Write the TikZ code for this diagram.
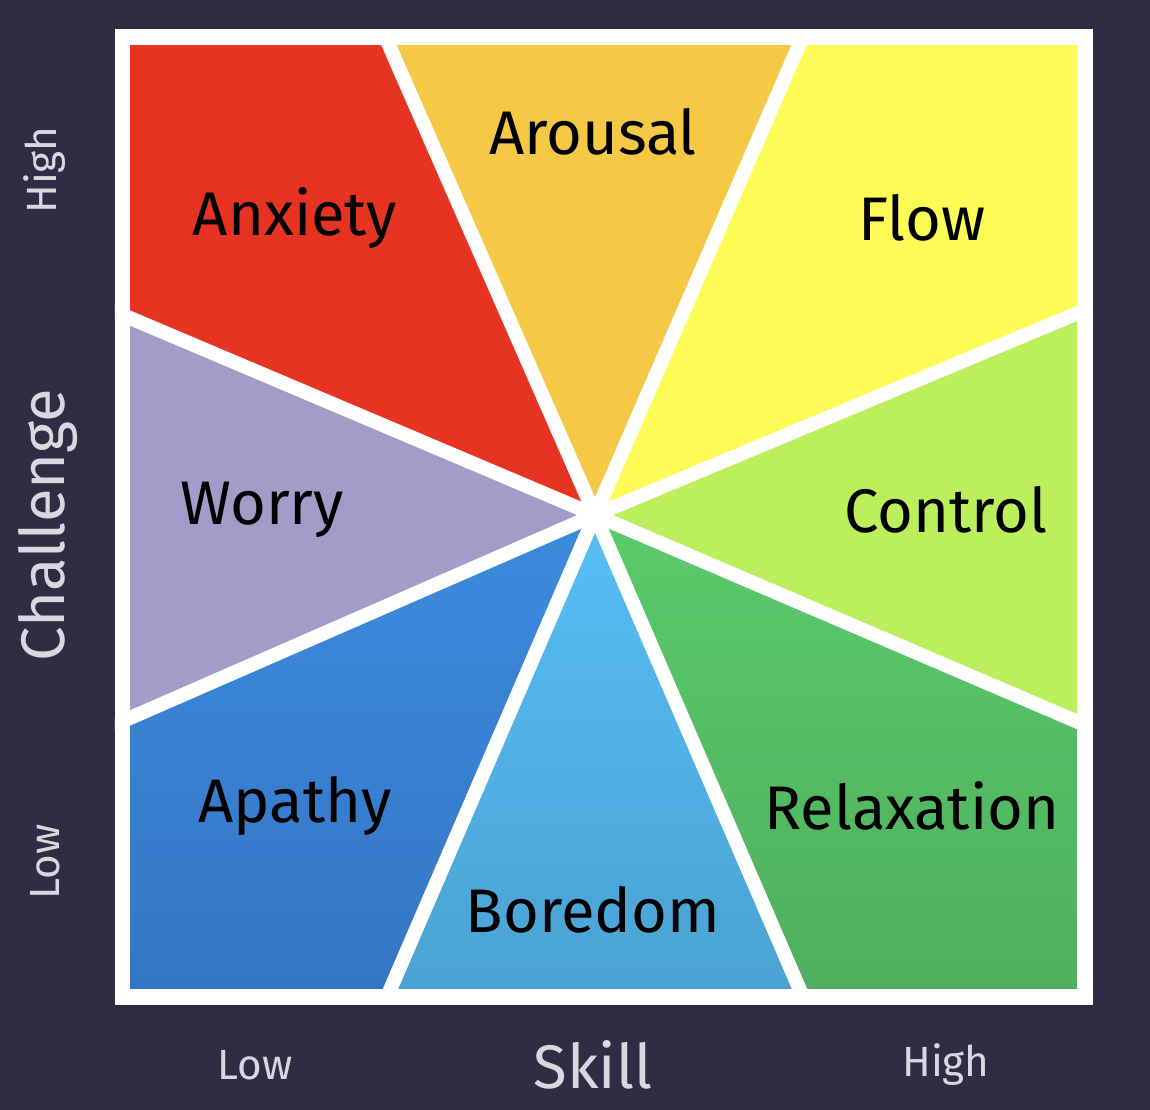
\documentclass[tikz,border=0pt]{standalone}
\usepackage{fontspec}
\usetikzlibrary{calc}
\setmainfont{Fira Sans}
\definecolor{bg}{HTML}{2F2D44}
\definecolor{cAnx}{HTML}{E63322}
\definecolor{cAro}{HTML}{F5C845}
\definecolor{cFlow}{HTML}{FDFB55}
\definecolor{cCtl}{HTML}{BCEF5C}
\definecolor{cRel}{HTML}{5ACB6A}
\definecolor{cRel2}{HTML}{4FAF5E}
\definecolor{cBor}{HTML}{57BEF5}
\definecolor{cBor2}{HTML}{4AA3D3}
\definecolor{cApa}{HTML}{3C8BDE}
\definecolor{cApa2}{HTML}{3576C4}
\definecolor{cWor}{HTML}{A29DC8}
\definecolor{axis}{HTML}{D8D8DE}
\tikzset{lab/.style={font=\fontsize{17.5}{20}\selectfont, text=black},
 ax/.style={font=\fontsize{12}{14}\selectfont, text=axis},
 axbig/.style={font=\fontsize{17.5}{20}\selectfont, text=axis},
 gap/.style={white, line width=4pt}}
\begin{document}
\begin{tikzpicture}[x=0.01cm,y=-0.01cm]
\fill[bg] (0,0) rectangle (1150,1110);
\useasboundingbox (0,0) rectangle (1150,1110);
\fill[white] (115,30) rectangle (1092,1004);
\coordinate (c) at (595,515);
\coordinate (t1) at (388,43); \coordinate (t2) at (800,43);
\coordinate (l1) at (130,318); \coordinate (l2) at (130,718);
\coordinate (r1) at (1078,313); \coordinate (r2) at (1078,722);
\coordinate (b1) at (390,990); \coordinate (b2) at (800,990);
\fill[cAnx] (c) -- (l1) -- (130,43) -- (t1) -- cycle;
\fill[cAro] (c) -- (t1) -- (t2) -- cycle;
\fill[cFlow] (c) -- (t2) -- (1078,43) -- (r1) -- cycle;
\fill[cCtl] (c) -- (r1) -- (r2) -- cycle;
\shade[top color=cRel, bottom color=cRel2] (c) -- (r2) -- (1078,990) -- (b2) -- cycle;
\shade[top color=cBor, bottom color=cBor2] (c) -- (b2) -- (b1) -- cycle;
\shade[top color=cApa, bottom color=cApa2] (c) -- (b1) -- (130,990) -- (l2) -- cycle;
\fill[cWor] (c) -- (l2) -- (l1) -- cycle;
\begin{scope}
\clip (115,30) rectangle (1092,1004);
\foreach \p in {t1,t2,l1,l2,r1,r2,b1,b2} \draw[gap] (c) -- ($(c)!1.05!(\p)$);
\end{scope}
\draw[white, line width=4.3pt] (122.5,37) rectangle (1085,997);
\node[lab] (anx) at (295,218) {Anxiety};
\node[lab] (aro) at (593,132) {Arousal};
\node[lab] (flow) at (922,218) {Flow};
\node[lab] (wor) at (262,510) {Worry};
\node[lab] (ctl) at (946,510) {Control};
\node[lab] (apa) at (295,806) {Apathy};
\node[lab] (rel) at (912,806) {Relaxation};
\node[lab] (bor) at (593,910) {Boredom};
\node[axbig, rotate=90] (chal) at (48,525) {Challenge};
\node[ax, rotate=90] (hi) at (45,170) {High};
\node[ax, rotate=90] (lo) at (45,862) {Low};
\node[axbig] (skill) at (593,1065) {Skill};
\node[ax] (slo) at (255,1065) {Low};
\node[ax] (shi) at (946,1065) {High};
\end{tikzpicture}
\end{document}
